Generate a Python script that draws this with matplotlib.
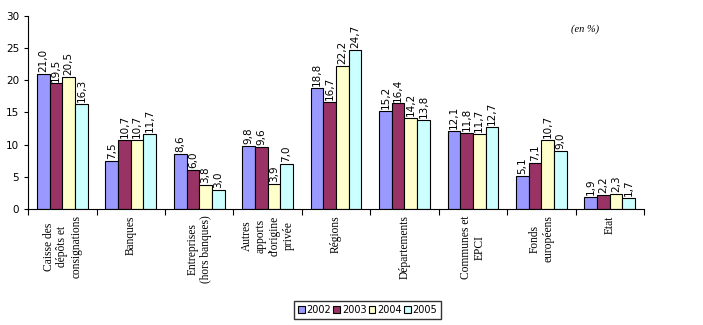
import matplotlib.pyplot as plt
import numpy as np

# ---- data ----
categories = ['Caisse des\ndépôts et\nconsignations', 'Banques', 'Entreprises\n(hors banques)',
              'Autres\napports\nd\'origine\nprivée', 'Régions', 'Départements',
              'Communes et\nEPCI', 'Fonds\neuropéens', 'Etat']
years = ['2002', '2003', '2004', '2005']
v2002 = [21.0, 7.5, 8.6, 9.8, 18.8, 15.2, 12.1, 5.1, 1.9]
v2003 = [19.5, 10.7, 6.0, 9.6, 16.7, 16.4, 11.8, 7.1, 2.2]
v2004 = [20.5, 10.7, 3.8, 3.9, 22.2, 14.2, 11.7, 10.7, 2.3]
v2005 = [16.3, 11.7, 3.0, 7.0, 24.7, 13.8, 12.7, 9.0, 1.7]
series = [v2002, v2003, v2004, v2005]
colors = ['#9999FF', '#993366', '#FFFFCC', '#CCFFFF']

fig = plt.figure(figsize=(7.03, 3.25), dpi=100)
ax = fig.add_axes([0.040, 0.357, 0.876, 0.594])

x = np.arange(len(categories))
w = 0.185
for i, (vals, c, yr) in enumerate(zip(series, colors, years)):
    pos = x + (i - 1.5) * w
    ax.bar(pos, vals, w, color=c, edgecolor='black', linewidth=0.8, label=yr)
    for p, v in zip(pos, vals):
        ax.text(p, v + 0.3, f'{v:.1f}'.replace('.', ','), rotation=90,
                ha='center', va='bottom', fontsize=7.5)

ax.set_xlim(-0.5, len(categories) - 0.5)
ax.set_ylim(0, 30)
ax.set_yticks(range(0, 31, 5))
ax.tick_params(axis='y', labelsize=7.5, length=3)
ax.set_xticks(np.arange(-0.5, len(categories), 1))
ax.set_xticklabels([])
ax.tick_params(axis='x', length=4)
for s in ['top', 'right']:
    ax.spines[s].set_visible(False)

for xi, lab in zip(x, categories):
    ax.text(xi, -1.0, lab, rotation=90, ha='center', va='top', multialignment='center',
            fontsize=8.3, family='Liberation Serif')

ax.text(0.904, 0.92, '(en %)', transform=ax.transAxes, fontsize=7.5,
        style='italic', family='Liberation Serif', ha='center')

fig.legend(loc='center', bbox_to_anchor=(0.523, 0.046), ncol=4, fontsize=7,
           frameon=True, fancybox=False, edgecolor='black', handlelength=0.7,
           handleheight=0.7, handletextpad=0.2, columnspacing=0.2, borderpad=0.4,
           borderaxespad=0)

fig.savefig('out.png', dpi=100)
